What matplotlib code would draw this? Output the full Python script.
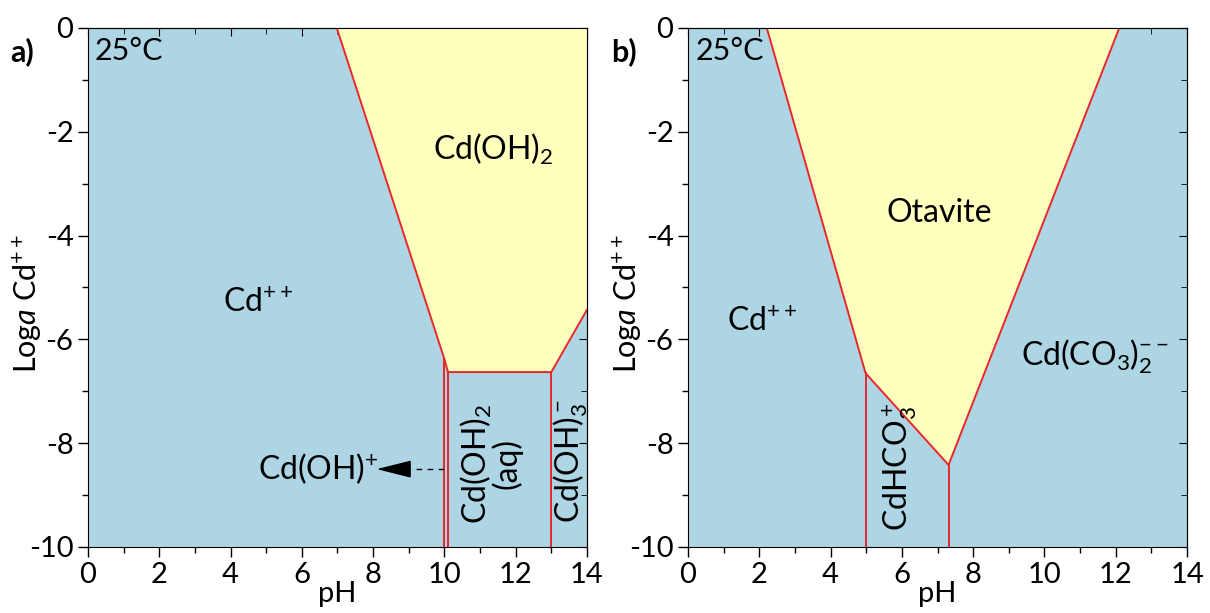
import matplotlib.pyplot as plt
from matplotlib.ticker import MultipleLocator

plt.rcParams['font.family'] = ['Lato', 'DejaVu Sans']
plt.rcParams['mathtext.fontset'] = 'custom'
plt.rcParams['mathtext.rm'] = 'Lato'
plt.rcParams['mathtext.it'] = 'Lato:italic'

blue = '#add5e4'
yellow = '#ffffbe'
red = '#e8262e'
fs = 21   # ticks / axis labels
lfs = 23  # field labels

# panel a: Cd(OH)2 solid field (pH, log a Cd++)
a_solid_ph = [6.98, 10.0, 10.1, 13.0, 14.0, 14.0]
a_solid_loga = [0.0, -6.38, -6.63, -6.63, -5.43, 0.0]
# vertical boundaries in panel a: (pH, top, bottom)
a_vlines = [(9.98, -6.38, -10), (10.1, -6.63, -10), (13.0, -6.63, -10)]

# panel b: otavite field
b_solid_ph = [2.21, 4.98, 7.31, 12.1]
b_solid_loga = [0.0, -6.65, -8.42, 0.0]
b_vlines = [(4.98, -6.65, -10), (7.31, -8.42, -10)]

fig = plt.figure(figsize=(12.1, 6.13), dpi=100)
axa = fig.add_axes([0.0727, 0.1077, 0.4124, 0.8467])
axb = fig.add_axes([0.5686, 0.1077, 0.4124, 0.8467])


def style(ax, letter):
    ax.set_xlim(0, 14)
    ax.set_ylim(-10, 0)
    ax.set_facecolor(blue)
    ax.xaxis.set_major_locator(MultipleLocator(2))
    ax.xaxis.set_minor_locator(MultipleLocator(1))
    ax.yaxis.set_major_locator(MultipleLocator(2))
    ax.yaxis.set_minor_locator(MultipleLocator(1))
    ax.tick_params(which='both', direction='out', labelsize=fs, top=False, right=False)
    ax.tick_params(which='major', length=7, width=1)
    ax.tick_params(which='minor', length=4, width=1)
    sec_x = ax.secondary_xaxis('top')
    sec_x.xaxis.set_major_locator(MultipleLocator(2))
    sec_x.xaxis.set_minor_locator(MultipleLocator(1))
    sec_x.tick_params(which='both', direction='in', labeltop=False, length=6)
    sec_x.tick_params(which='minor', length=4)
    sec_y = ax.secondary_yaxis('right')
    sec_y.yaxis.set_major_locator(MultipleLocator(2))
    sec_y.yaxis.set_minor_locator(MultipleLocator(1))
    sec_y.tick_params(which='both', direction='in', labelright=False, length=6)
    sec_y.tick_params(which='minor', length=4)
    ax.set_yticklabels([str(int(v)) for v in ax.get_yticks()])
    ax.set_xlabel('pH', fontsize=fs, labelpad=-5)
    ax.set_ylabel(r'Log$\mathit{a}$ Cd$^{++}$', fontsize=fs + 1)
    ax.yaxis.set_label_coords(-0.088, 0.47)
    ax.text(0.2, -0.45, '25°C', fontsize=fs + 1, ha='left', va='center')
    ax.text(-0.155, 0.955, letter, transform=ax.transAxes, fontsize=fs + 1,
            fontweight='bold', ha='left', va='center')


style(axa, 'a)')
style(axb, 'b)')

# panel a
axa.fill(a_solid_ph, a_solid_loga, color=yellow, zorder=1)
axa.plot(a_solid_ph[:5], a_solid_loga[:5], color=red, lw=1.4, zorder=2)
for x, y0, y1 in a_vlines:
    axa.plot([x, x], [y0, y1], color=red, lw=1.4, zorder=2)
axa.text(11.36, -2.35, r'Cd(OH)$_2$', fontsize=lfs, ha='center', va='center')
axa.text(4.77, -5.3, r'Cd$^{++}$', fontsize=lfs, ha='center', va='center')
axa.text(11.3, -8.4, 'Cd(OH)$_2$\n(aq)', fontsize=lfs, ha='center', va='center',
         rotation=90, linespacing=0.85)
axa.text(13.55, -8.35, r'Cd(OH)$_3^-$', fontsize=lfs, ha='center', va='center', rotation=90)
axa.text(8.15, -8.5, r'Cd(OH)$^{+}$', fontsize=lfs, ha='right', va='center')
axa.plot([8.9, 10.0], [-8.5, -8.5], color='black', lw=1, ls=(0, (4, 4)))
axa.annotate('', xy=(8.1, -8.5), xytext=(9.0, -8.5),
             arrowprops=dict(arrowstyle='-|>,head_length=2.2,head_width=0.55',
                             color='black', lw=1, shrinkA=0, shrinkB=0))

# panel b
axb.fill(b_solid_ph, b_solid_loga, color=yellow, zorder=1)
axb.plot(b_solid_ph, b_solid_loga, color=red, lw=1.4, zorder=2)
for x, y0, y1 in b_vlines:
    axb.plot([x, x], [y0, y1], color=red, lw=1.4, zorder=2)
axb.text(7.06, -3.56, 'Otavite', fontsize=lfs, ha='center', va='center')
axb.text(2.07, -5.66, r'Cd$^{++}$', fontsize=lfs, ha='center', va='center')
axb.text(11.4, -6.34, r'Cd(CO$_3$)$_2^{--}$', fontsize=lfs, ha='center', va='center')
axb.text(5.94, -8.45, r'CdHCO$_3^+$', fontsize=lfs, ha='center', va='center', rotation=90)

fig.savefig('out.png', dpi=100)
